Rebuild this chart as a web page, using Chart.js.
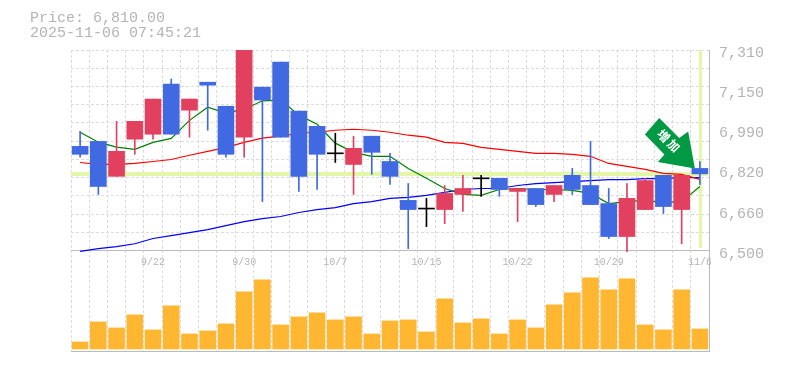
<!DOCTYPE html>
<html><head><meta charset="utf-8">
<script src="https://cdn.jsdelivr.net/npm/chart.js@4/dist/chart.umd.min.js"></script>
<style>html,body{margin:0;padding:0;background:#fff}canvas{display:block}</style>
</head><body><div style="width:785px;height:370px"><canvas id="c" width="785" height="370"></canvas></div>
<script>
const categories=["9/16","9/17","9/18","9/19","9/22","9/24","9/25","9/26","9/29","9/30","10/1","10/2","10/3","10/6","10/7","10/8","10/9","10/10","10/14","10/15","10/16","10/17","10/20","10/21","10/22","10/23","10/24","10/27","10/28","10/29","10/30","10/31","11/4","11/5","11/6"];
const shownDates=["9/22","9/30","10/7","10/15","10/22","10/29","11/6"];
const bodyTop=[6921,6941,6901,7022,7112,7172,7112,7180,7083,7310,7160,7261,7063,7002,6895,6913,6962,6860,6703,6672,6731,6751,6794,6792,6751,6751,6763,6804,6763,6690,6711,6783,6804,6804,6832];
const bodyBottom=[6889,6759,6800,6950,6970,6970,7067,7168,6889,6958,7108,6958,6800,6889,6891,6848,6897,6800,6666,6668,6666,6727,6790,6747,6739,6686,6727,6747,6686,6557,6557,6666,6678,6666,6810];
const highs=[6982,6941,7022,7022,7112,7193,7112,7180,7083,7310,7160,7261,7063,7002,6974,6962,6962,6893,6771,6711,6763,6804,6804,6792,6751,6751,6763,6832,6941,6751,6771,6792,6804,6804,6860];
const lows=[6877,6727,6800,6889,6950,6970,6958,6986,6877,6877,6698,6958,6739,6747,6856,6727,6808,6767,6508,6597,6609,6658,6719,6719,6617,6678,6698,6727,6686,6549,6496,6666,6650,6528,6767];
const direction=["d","d","u","u","u","d","u","d","d","u","d","d","d","d","f","u","d","d","d","f","u","u","f","d","u","d","u","d","d","d","u","u","d","u","d"];
const ma5=[6978,6938,6918,6909,6937,6953,7026,7079,7055,7071,7105,7108,7047,7010,6934,6897,6881,6881,6832,6792,6751,6727,6723,6747,6751,6747,6747,6743,6731,6690,6698,6703,6694,6698,6759];
const ma25=[6856,6848,6848,6852,6860,6868,6885,6901,6917,6937,6954,6962,6974,6978,6986,6990,6986,6978,6966,6958,6937,6933,6917,6909,6901,6893,6893,6889,6881,6852,6840,6828,6812,6808,6788];
const ma75=[6497,6508,6516,6528,6549,6561,6573,6585,6601,6617,6629,6638,6654,6666,6674,6690,6698,6711,6715,6723,6735,6747,6751,6751,6763,6771,6775,6779,6783,6787,6787,6791,6791,6795,6795];
const volumes=[7,27,21,34,19,43,15,18,25,57,69,24,32,36,29,32,15,28,29,17,50,26,30,15,29,21,44,56,71,59,70,24,19,59,20];
const priceLabels=[7310,7148,6986,6824,6662,6500];
const lastPrice=6810;
const titleLines=["Price: 6,810.00","2025-11-06 07:45:21"];
const arrowText=["増","加"];

const colorOf={u:"#E2405F",d:"#4169E1",f:"#000000"};
const candleColors=direction.map(d=>colorOf[d]);
const MONO='"Liberation Mono"';
const TXT="#b4b4b4",GRID="#dcdcdc",AX="#bbbbbb";

const decor={id:"decor",
 beforeDatasetsDraw(ch){
  const g=ch.ctx,a=ch.chartArea,x=ch.scales.x,y=ch.scales.y;
  g.save();g.fillStyle="#E4F7A8";
  g.fillRect(a.left,Math.round(y.getPixelForValue(lastPrice))-2,x.getPixelForValue(34)+8-a.left,4);
  g.fillRect(Math.round(x.getPixelForValue(34))-1,a.top,3,198);
  g.restore();
 },
 afterDraw(ch){
  const g=ch.ctx,x=ch.scales.x,y=ch.scales.y;
  const tx=x.getPixelForValue(34)-5,ty=y.getPixelForValue(6832);
  g.save();
  g.fillStyle="#fff";g.fillRect(ch.chartArea.right+2,254,6,14);
  g.translate(tx,ty);
  const pts=[[0,0],[-37,-6.5],[-30.5,-14],[-50,-34],[-35.7,-50.5],[-15.7,-30.5],[-6.7,-37]];
  g.fillStyle="#009944";g.beginPath();pts.forEach((p,i)=>i?g.lineTo(p[0],p[1]):g.moveTo(p[0],p[1]));g.closePath();g.fill();
  g.rotate(Math.PI/4);g.fillStyle="#fff";g.font='bold 12px "Noto Sans CJK JP"';g.textAlign="center";g.textBaseline="middle";
  g.fillText(arrowText[0],-45,-1);g.fillText(arrowText[1],-31,-1);
  g.restore();
 }};

new Chart(document.getElementById("c"),{
 type:"bar",
 plugins:[decor],
 data:{labels:categories,datasets:[
  {type:"bar",data:bodyTop.map((t,i)=>[bodyBottom[i],t]),backgroundColor:candleColors,barThickness:16,grouped:false,yAxisID:"y",order:1},
  {type:"bar",data:highs.map((h,i)=>[lows[i],h]),backgroundColor:candleColors,barThickness:1,grouped:false,yAxisID:"y",order:2},
  {type:"line",data:ma5,borderColor:"#008000",borderWidth:1.2,pointRadius:0,tension:0,yAxisID:"y",order:3},
  {type:"line",data:ma25,borderColor:"#FF0000",borderWidth:1.2,pointRadius:0,tension:0,yAxisID:"y",order:4},
  {type:"line",data:ma75,borderColor:"#0000FF",borderWidth:1.2,pointRadius:0,tension:0,yAxisID:"y",order:5},
  {type:"bar",data:volumes,backgroundColor:"#FFB732",barThickness:16,grouped:false,yAxisID:"vol",order:6}
 ]},
 options:{responsive:false,animation:false,events:[],
  layout:{padding:{left:30,right:0,top:0,bottom:0}},
  plugins:{legend:{display:false},tooltip:{enabled:false},
   title:{display:true,text:titleLines,align:"start",color:TXT,font:{family:MONO,size:15,weight:"normal",lineHeight:1},padding:{top:11,bottom:9}}},
  scales:{
   x:{position:{y:6500},offset:true,
    grid:{color:GRID,offset:true,drawTicks:false},
    border:{display:false,dash:[3,2]},
    ticks:{autoSkip:false,maxRotation:0,minRotation:0,padding:6,color:TXT,font:{family:MONO,size:10},
     callback(v){const l=this.getLabelForValue(v);return shownDates.includes(l)?l:"";}}},
   xDivider:{position:{y:6500},type:"category",labels:categories,offset:true,grid:{display:false,drawTicks:false},border:{display:true,color:AX,width:1},ticks:{display:false}},
   xBottom:{position:"bottom",type:"category",labels:categories,offset:true,grid:{display:false,drawTicks:false},border:{display:true,color:AX,width:1},ticks:{display:false}},
   y:{position:"left",min:6095,max:7310,
    afterBuildTicks(s){s.ticks=[];for(let k=0;k<=11;k++)s.ticks.push({value:6500+k*810/11});},
    afterFit(s){s.width=41;},
    grid:{color:GRID,drawTicks:false},border:{display:false,dash:[3,2]},ticks:{display:false}},
   yRight:{position:"right",min:6095,max:7310,
    afterBuildTicks(s){s.ticks=priceLabels.map(v=>({value:v}));},
    afterFit(s){s.width=76;},
    grid:{display:false,drawTicks:false},border:{display:true,color:AX,width:1},
    ticks:{padding:10,labelOffset:3,color:TXT,font:{family:MONO,size:15},
     callback(v){return (Math.round(v/10)*10).toLocaleString("en-US");}}},
   vol:{display:false,position:"right",min:-2,max:298}
  }}
});
</script></body></html>
